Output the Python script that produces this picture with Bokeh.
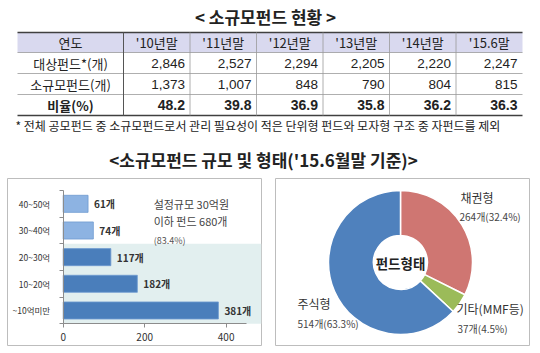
import math
from bokeh.plotting import figure
from bokeh.models import Range1d, FixedTicker, BoxAnnotation, LinearAxis
from bokeh.layouts import column, row
from bokeh.embed import file_html
from bokeh.resources import INLINE
from bokeh.core.properties import value

# ---------------- data ----------------
table_title = "< 소규모펀드 현황 >"
header_label = "연도"
years = ["'10년말", "'11년말", "'12년말", "'13년말", "'14년말", "'15.6말"]
row_labels = ["대상펀드*(개)", "소규모펀드(개)", "비율(%)"]
target_funds = [2846, 2527, 2294, 2205, 2220, 2247]
small_funds = [1373, 1007, 848, 790, 804, 815]
small_ratio = [48.2, 39.8, 36.9, 35.8, 36.2, 36.3]
footnote = "* 전체 공모펀드 중 소규모펀드로서 관리 필요성이 적은 단위형 펀드와 모자형 구조 중 자펀드를 제외"
section_title = "<소규모펀드 규모 및 형태('15.6월말 기준)>"

size_bins = ["40~50억", "30~40억", "20~30억", "10~20억", "~10억미만"]
size_counts = [61, 74, 117, 182, 381]
size_ticks = [0, 200, 400]
size_axis_max = 450
note_lines = ["설정규모 30억원", "이하 펀드 680개", "(83.4%)"]

type_names = ["채권형", "기타(MMF등)", "주식형"]
type_counts = [264, 37, 514]
type_pcts = [32.4, 4.5, 63.3]
donut_label = "펀드형태"

# ---------------- styles ----------------
KR = "Noto Sans CJK KR"
AR = "Liberation Sans"
TXT = "#222222"
BOX = "#bdbdbd"
TOP_H = 174
BOT_H = 353 - TOP_H

# ================= top figure: table + titles =================
top = figure(width=540, height=TOP_H, x_range=Range1d(0, 540), y_range=Range1d(TOP_H, 0),
             output_backend="svg", toolbar_location=None, min_border=0,
             x_axis_location=None, y_axis_location=None)
top.grid.visible = False
top.outline_line_color = None

top.text(x=[265], y=[16], text=[table_title], text_font=value(KR), text_font_style="bold",
         text_font_size="17px", text_align="center", text_baseline="middle", text_color=TXT)

first_w = 106
col_w = 66.5
x0 = 17
col_edges = [x0, x0 + first_w] + [x0 + first_w + col_w * (i + 1) for i in range(len(years))]
row_edges = [32, 52, 73, 94, 115]

top.quad(left=[col_edges[0]], right=[col_edges[-1]], top=[row_edges[0]], bottom=[row_edges[1]],
         fill_color="#d9d9ef", line_color=None)

top.segment(x0=[col_edges[0]] * 2, x1=[col_edges[-1]] * 2, y0=[row_edges[0], row_edges[-1]],
            y1=[row_edges[0], row_edges[-1]], line_color="#404040", line_width=1.5)
top.segment(x0=[col_edges[0]] * 3, x1=[col_edges[-1]] * 3, y0=row_edges[1:4], y1=row_edges[1:4],
            line_color="#9a9a9a", line_width=0.8)
top.segment(x0=[col_edges[1]], x1=[col_edges[1]], y0=[row_edges[0]], y1=[row_edges[-1]],
            line_color="#555555", line_width=1)
top.segment(x0=col_edges[2:-1], x1=col_edges[2:-1], y0=[row_edges[0]] * (len(col_edges) - 3),
            y1=[row_edges[-1]] * (len(col_edges) - 3), line_color="#9a9a9a", line_width=0.8)

centers = [(col_edges[i] + col_edges[i + 1]) / 2 for i in range(len(col_edges) - 1)]
row_mid = [(row_edges[i] + row_edges[i + 1]) / 2 for i in range(len(row_edges) - 1)]

top.text(x=centers, y=[row_mid[0]] * len(centers), text=[header_label] + years,
         text_font=value(KR), text_font_size="13px", text_align="center",
         text_baseline="middle", text_color=TXT)
top.text(x=[centers[0]] * 2, y=row_mid[1:3], text=row_labels[:2], text_font=value(KR),
         text_font_size="13px", text_align="center", text_baseline="middle", text_color=TXT)
top.text(x=[centers[0]], y=[row_mid[3]], text=[row_labels[2]], text_font=value(KR),
         text_font_style="bold", text_font_size="13px", text_align="center",
         text_baseline="middle", text_color=TXT)

rights = [e - 5 for e in col_edges[2:]]
top.text(x=rights, y=[row_mid[1]] * len(rights), text=[f"{v:,}" for v in target_funds],
         text_font=value(AR), text_font_size="13.5px", text_align="right",
         text_baseline="middle", text_color=TXT)
top.text(x=rights, y=[row_mid[2]] * len(rights), text=[f"{v:,}" for v in small_funds],
         text_font=value(AR), text_font_size="13.5px", text_align="right",
         text_baseline="middle", text_color=TXT)
top.text(x=rights, y=[row_mid[3]] * len(rights), text=[f"{v:.1f}" for v in small_ratio],
         text_font=value(AR), text_font_style="bold", text_font_size="14px", text_align="right",
         text_baseline="middle", text_color=TXT)

top.text(x=[15], y=[125], text=[footnote], text_font=value(KR), text_font_size="12px",
         text_align="left", text_baseline="middle", text_color=TXT)

top.text(x=[263], y=[159], text=[section_title], text_font=value(KR), text_font_style="bold",
         text_font_size="17px", text_align="center", text_baseline="middle", text_color=TXT)

# panel frame (both bottom figures share it) in page pixels
PANEL_TOP, PANEL_BOTTOM = 178, 345
b_top = PANEL_TOP - TOP_H
b_bottom = 353 - PANEL_BOTTOM

# ================= bar chart =================
n = len(size_bins)
ycent = [i + 0.5 for i in range(n)]
# frame = panel box 7..261 ; bar scale 0 -> 62.7px, 450 -> 246px
px_per_unit = (246 - 62.7) / size_axis_max
x_lo = -(62.7 - 7) / px_per_unit
x_hi = size_axis_max + (261 - 246) / px_per_unit
px_per_cat = (323.3 - 190) / n
y_top = -(190 - PANEL_TOP) / px_per_cat
y_bot = n + (PANEL_BOTTOM - 323.3) / px_per_cat

bar = figure(width=270, height=BOT_H, x_range=Range1d(x_lo, x_hi), y_range=Range1d(y_bot, y_top),
             output_backend="svg", toolbar_location=None,
             min_border_left=7, min_border_right=9, min_border_top=b_top, min_border_bottom=b_bottom,
             x_axis_location=None, y_axis_location=None)
bar.grid.visible = False
bar.outline_line_color = BOX

xaxis = LinearAxis(ticker=FixedTicker(ticks=size_ticks), bounds=(0, size_axis_max), fixed_location=n)
xaxis.axis_line_color = "#8c8c8c"
xaxis.major_tick_line_color = "#8c8c8c"
xaxis.major_tick_out = 4
xaxis.major_tick_in = 0
xaxis.minor_tick_line_color = None
xaxis.major_label_text_font = KR
xaxis.major_label_text_font_size = "10px"
xaxis.major_label_text_color = "#333333"
xaxis.major_label_standoff = 5
bar.add_layout(xaxis, "below")

yaxis = LinearAxis(ticker=FixedTicker(ticks=ycent, minor_ticks=list(range(n + 1))),
                   major_label_overrides={c: lab for c, lab in zip(ycent, size_bins)},
                   bounds=(0, n), fixed_location=0)
yaxis.axis_line_color = "#8c8c8c"
yaxis.major_tick_line_color = None
yaxis.minor_tick_line_color = "#8c8c8c"
yaxis.minor_tick_out = 4
yaxis.minor_tick_in = 0
yaxis.major_label_text_font = KR
yaxis.major_label_text_font_size = "8.5px"
yaxis.major_label_text_color = "#333333"
yaxis.major_label_standoff = 7
bar.add_layout(yaxis, "left")

bar.add_layout(BoxAnnotation(top=2, bottom=n, left=0, fill_color="#e2efef", fill_alpha=1,
                             line_color=None, level="underlay"))

bar_colors = ["#8db3e2" if i < 2 else "#4a7ebb" for i in range(n)]
bar.hbar(y=ycent, left=0, right=size_counts, height=0.64, fill_color=bar_colors,
         line_color="#6f9bd0", line_width=0.8)
bar.text(x=size_counts, y=ycent, text=[f"{c}개" for c in size_counts], x_offset=6,
         text_font=value(KR), text_font_style="bold", text_font_size="10px",
         text_baseline="middle", text_color="#333333")

bar.text(x=[222, 222], y=[0.49, 1.16], text=note_lines[:2], text_font=value(KR),
         text_font_size="11px", text_baseline="middle", text_color="#444444")
bar.text(x=[222], y=[1.87], text=note_lines[2:], text_font=value(KR),
         text_font_size="9px", text_baseline="middle", text_color="#555555")

# ================= donut chart =================
don = figure(width=270, height=BOT_H, x_range=Range1d(275, 529),
             y_range=Range1d(PANEL_BOTTOM, PANEL_TOP),
             output_backend="svg", toolbar_location=None,
             min_border_left=5, min_border_right=11, min_border_top=b_top, min_border_bottom=b_bottom,
             x_axis_location=None, y_axis_location=None)
don.grid.visible = False
don.outline_line_color = BOX

total = sum(type_counts)
starts, ends = [], []
acc = 0
for c in type_counts:
    starts.append(math.pi / 2 - 2 * math.pi * acc / total)
    acc += c
    ends.append(math.pi / 2 - 2 * math.pi * acc / total)
type_colors = ["#cf7672", "#9bbb59", "#4f81bd"]
cx, cy = 400, 262
don.annular_wedge(x=[cx] * 3, y=[cy] * 3, inner_radius=27, outer_radius=72,
                  start_angle=starts, end_angle=ends, direction="clock",
                  fill_color=type_colors, line_color="white", line_width=1.5)
don.text(x=[cx], y=[cy], text=[donut_label], text_font=value(KR), text_font_style="bold",
         text_font_size="13.5px", text_align="center", text_baseline="middle", text_color=TXT)

name_pos = [(460, 197), (456, 308), (297, 303)]
val_pos = [(459, 216), (457, 328), (297, 323)]
don.text(x=[p[0] for p in name_pos], y=[p[1] for p in name_pos], text=type_names,
         text_font=value(KR), text_font_size="12px", text_baseline="middle", text_color="#333333")
don.text(x=[p[0] for p in val_pos], y=[p[1] for p in val_pos],
         text=[f"{c}개({p}%)" for c, p in zip(type_counts, type_pcts)],
         text_font=value(KR), text_font_size="10px", text_baseline="middle", text_color="#444444")

layout = column(top, row(bar, don, spacing=0), spacing=0)
open("out.html", "w").write(file_html(layout, INLINE))
